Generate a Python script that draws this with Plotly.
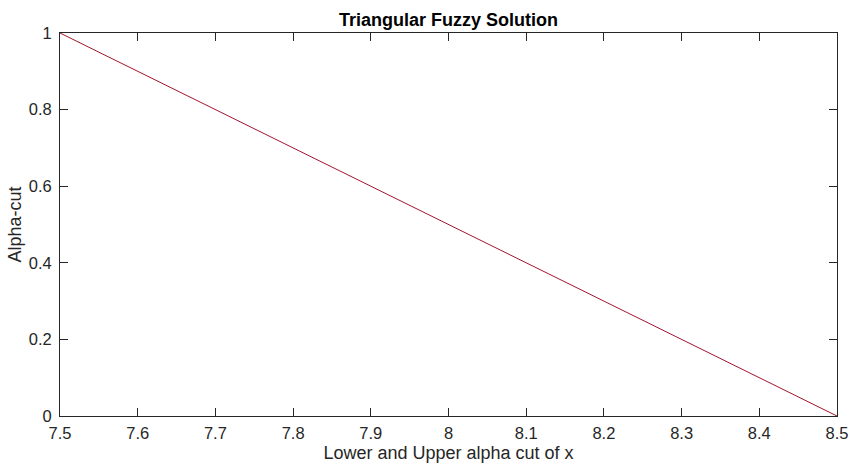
import plotly.graph_objects as go

x_vals = [7.5, 8.5]
alpha_vals = [1.0, 0.0]
x_ticks = [7.5, 7.6, 7.7, 7.8, 7.9, 8.0, 8.1, 8.2, 8.3, 8.4, 8.5]
x_tick_labels = ["7.5", "7.6", "7.7", "7.8", "7.9", "8", "8.1", "8.2", "8.3", "8.4", "8.5"]
y_ticks = [0, 0.2, 0.4, 0.6, 0.8, 1]
y_tick_labels = ["0", "0.2", "0.4", "0.6", "0.8", "1"]

FONT = "Liberation Sans, Arial, Helvetica"

fig = go.Figure()
fig.add_trace(go.Scatter(x=x_vals, y=alpha_vals, mode="lines",
                         line=dict(color="#A2142F", width=1), showlegend=False,
                         cliponaxis=False))

axis_common = dict(showgrid=False, zeroline=False, showline=True, linecolor="#262626",
                   linewidth=1, mirror="ticks", ticks="inside", ticklen=8,
                   tickcolor="#262626", tickwidth=1, automargin=False,
                   tickfont=dict(family=FONT, size=16.5, color="#262626"))

fig.update_layout(
    width=850, height=464,
    margin=dict(l=60, r=13, t=33, b=48, pad=0),
    paper_bgcolor="white", plot_bgcolor="white",
    title=dict(text="<b>Triangular Fuzzy Solution</b>", x=0.5, xanchor="center",
               xref="paper", yref="container",
               y=1 - 20 / 464, yanchor="middle",
               font=dict(family=FONT, size=18, color="black")),
    xaxis=dict(range=[7.5, 8.5], tickvals=x_ticks, ticktext=x_tick_labels,
               ticklabelstandoff=2,
               title=dict(text="Lower and Upper alpha cut of x", standoff=5,
                          font=dict(family=FONT, size=18, color="#262626")),
               **axis_common),
    yaxis=dict(range=[0, 1], tickvals=y_ticks, ticktext=y_tick_labels,
               ticklabelstandoff=4,
               title=dict(text="Alpha-cut", standoff=2,
                          font=dict(family=FONT, size=18, color="#262626")),
               **axis_common),
)

fig.write_html("out.html", config={"displayModeBar": False},
               post_script="document.body.style.margin='0px';document.body.style.overflow='hidden';")
